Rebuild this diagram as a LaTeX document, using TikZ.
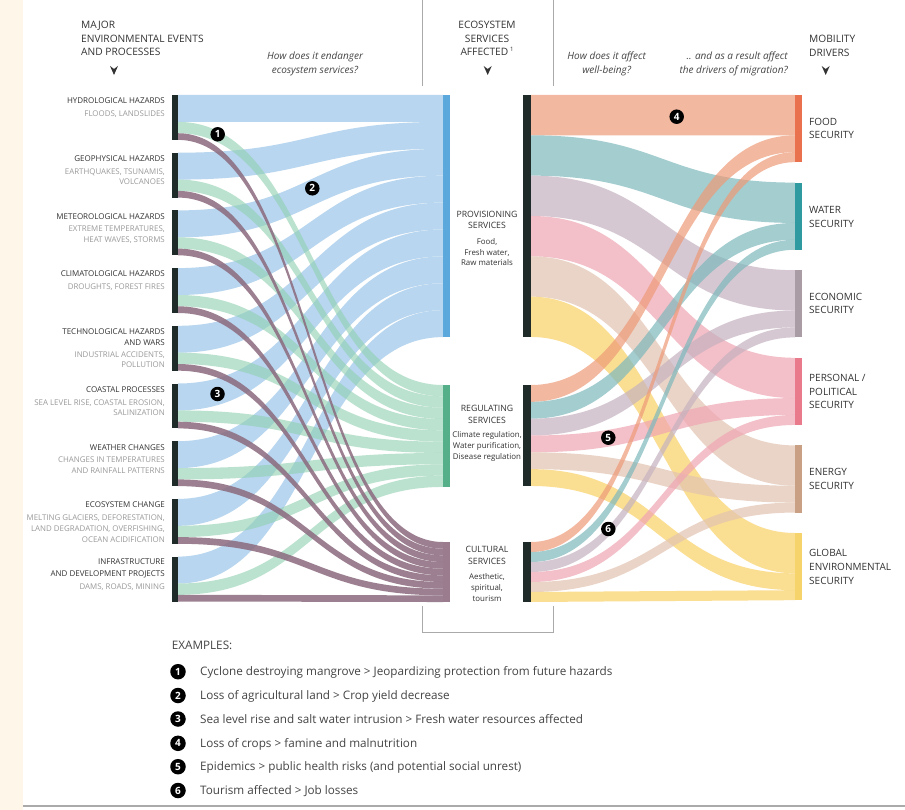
\documentclass[tikz,border=0pt]{standalone}
\usepackage{fontspec}
\setmainfont{Open Sans}
\definecolor{cream}{HTML}{FDF6E9}
\definecolor{darkbar}{HTML}{1E2B28}
\definecolor{bluefl}{HTML}{B8D6EF}
\definecolor{greenfl}{HTML}{8FD0B0}
\definecolor{purplefl}{HTML}{8B6A7E}
\definecolor{bluebar}{HTML}{5AA8DC}
\definecolor{greenbar}{HTML}{55B08A}
\definecolor{purplebar}{HTML}{9B7B8E}
\definecolor{foodfl}{HTML}{EE9A78}
\definecolor{waterfl}{HTML}{7DB8BC}
\definecolor{econfl}{HTML}{C5B2BF}
\definecolor{persfl}{HTML}{EFA5B2}
\definecolor{enerfl}{HTML}{E2C3B0}
\definecolor{globfl}{HTML}{F9D064}
\definecolor{foodbar}{HTML}{E9714D}
\definecolor{waterbar}{HTML}{2F9AA0}
\definecolor{econbar}{HTML}{A99CA5}
\definecolor{persbar}{HTML}{E97A8C}
\definecolor{enerbar}{HTML}{C9A084}
\definecolor{globbar}{HTML}{F6D36B}
\definecolor{tdark}{HTML}{333333}
\definecolor{tgray}{HTML}{9A9A9A}
\definecolor{tq}{HTML}{444444}
\definecolor{linegray}{HTML}{AAAAAA}
\newcommand{\sankeyband}[7]{%
  \pgfmathsetmacro\xm{(#1+#4)/2}%
  \fill[#7] (#1,#2) .. controls (\xm,#2) and (\xm,#5) .. (#4,#5) -- (#4,#6) .. controls (\xm,#6) and (\xm,#3) .. (#1,#3) -- cycle;}
\newcommand{\downmark}[2]{\fill[tdark] (#1-4,#2-5) -- (#1,#2-2) -- (#1+4,#2-5) -- (#1,#2+4) -- cycle;}
\begin{document}
\begin{tikzpicture}[x=1pt,y=-1pt,
  hd/.style={anchor=base west, font=\fontsize{10.2}{12}\selectfont, text=tdark, inner sep=0},
  hdc/.style={anchor=base, font=\fontsize{10.2}{12}\selectfont, text=tdark, inner sep=0},
  qs/.style={anchor=base, font=\fontsize{10}{11}\selectfont\itshape, text=tq, inner sep=0},
  lt/.style={anchor=base east, font=\fontsize{8}{10}\selectfont, text=tdark, inner sep=0},
  ls/.style={anchor=base east, font=\fontsize{7.9}{9}\selectfont, text=tgray, inner sep=0},
  mt/.style={anchor=base, font=\fontsize{8.7}{10}\selectfont, text=tdark, inner sep=0},
  ms/.style={anchor=base, font=\fontsize{7.9}{10}\selectfont, text=tdark, inner sep=0},
  dl/.style={anchor=base west, font=\fontsize{10}{12}\selectfont, text=tdark, inner sep=0},
  mk/.style={circle, fill=black, text=white, inner sep=0, minimum size=14.5, font=\fontsize{10}{10}\selectfont\bfseries},
  ex/.style={anchor=base west, font=\fontsize{11.7}{13}\selectfont, text=tq, inner sep=0},
  frame/.style={draw=linegray, line width=1}]
\useasboundingbox (0,0) rectangle (905,810);
\fill[white] (0,0) rectangle (905,810);
\fill[cream] (0,0) rectangle (23,810);
\draw[draw=linegray, line width=1.2] (23,806) -- (905,806);
% guide lines
\draw[frame] (422,0) -- (422,86);
\draw[frame] (553,0) -- (553,86);
\draw[frame] (422,606) -- (422,632) -- (553,632) -- (553,606);

% ---- left flows
\foreach \i in {0,...,8}{
  \pgfmathsetmacro\sa{95+\i*57.7}
  \pgfmathsetmacro\sb{\sa+26.9}
  \pgfmathsetmacro\ta{95+\i*26.9}
  \pgfmathsetmacro\tb{\ta+26.9}
  \sankeyband{178}{\sa}{\sb}{443}{\ta}{\tb}{fill=bluefl}
}
\foreach \i in {0,...,8}{
  \pgfmathsetmacro\sa{95+\i*57.7+26.9}
  \pgfmathsetmacro\sb{\sa+11.33}
  \pgfmathsetmacro\ta{385+\i*11.33}
  \pgfmathsetmacro\tb{\ta+11.33}
  \sankeyband{178}{\sa}{\sb}{443}{\ta}{\tb}{fill=greenfl,fill opacity=0.6}
}
\foreach \i in {0,...,8}{
  \pgfmathsetmacro\sa{95+\i*57.7+38.23}
  \pgfmathsetmacro\sb{\sa+6.67}
  \pgfmathsetmacro\ta{542+\i*6.67}
  \pgfmathsetmacro\tb{\ta+6.67}
  \sankeyband{178}{\sa}{\sb}{443}{\ta}{\tb}{fill=purplefl,fill opacity=0.85}
}
% ---- right flows
\foreach \k/\col in {0/foodfl,1/waterfl,2/econfl,3/persfl,4/enerfl,5/globfl}{
  \pgfmathsetmacro\sa{95+\k*40.33}
  \pgfmathsetmacro\sb{\sa+40.33}
  \pgfmathsetmacro\ta{95+\k*87.6}
  \pgfmathsetmacro\tb{\ta+40.33}
  \sankeyband{531}{\sa}{\sb}{795}{\ta}{\tb}{fill=\col,fill opacity=0.7}
}
\foreach \k/\col in {0/foodfl,1/waterfl,2/econfl,3/persfl,4/enerfl,5/globfl}{
  \pgfmathsetmacro\sa{385+\k*16.83}
  \pgfmathsetmacro\sb{\sa+16.83}
  \pgfmathsetmacro\ta{95+\k*87.6+40.33}
  \pgfmathsetmacro\tb{\ta+16.83}
  \sankeyband{531}{\sa}{\sb}{795}{\ta}{\tb}{fill=\col,fill opacity=0.7}
}
\foreach \k/\col in {0/foodfl,1/waterfl,2/econfl,3/persfl,4/enerfl,5/globfl}{
  \pgfmathsetmacro\sa{542+\k*10}
  \pgfmathsetmacro\sb{\sa+10}
  \pgfmathsetmacro\ta{95+\k*87.6+57.17}
  \pgfmathsetmacro\tb{\ta+10}
  \sankeyband{531}{\sa}{\sb}{795}{\ta}{\tb}{fill=\col,fill opacity=0.7}
}

% ---- bars
\foreach \i in {0,...,8}{
  \pgfmathsetmacro\sa{95+\i*57.7}
  \pgfmathsetmacro\sb{\sa+44.9}
  \fill[darkbar] (172,\sa) rectangle (178,\sb);
}
\fill[bluebar] (443,95) rectangle (449.5,337.1);
\fill[greenbar] (443,385) rectangle (449.5,487);
\fill[purplebar] (443,542) rectangle (449.5,602);
\fill[darkbar] (523,95) rectangle (531,337.1);
\fill[darkbar] (523,385) rectangle (531,486);
\fill[darkbar] (523,542) rectangle (531,602);
\foreach \k/\col in {0/foodbar,1/waterbar,2/econbar,3/persbar,4/enerbar,5/globbar}{
  \pgfmathsetmacro\ta{95+\k*87.6}
  \pgfmathsetmacro\tb{\ta+67.2}
  \fill[\col] (795,\ta) rectangle (801.5,\tb);
}

% ---- headers
\node[hd] (h1a) at (81,28.6) {MAJOR};
\node[hd] (h1b) at (81,42.6) {ENVIRONMENTAL EVENTS};
\node[hd] (h1c) at (81,55.9) {AND PROCESSES};
\downmark{114}{71}
\node[qs] (q1a) at (315,60) {How does it endanger};
\node[qs] (q1b) at (315,74) {ecosystem services?};
\node[hdc] (h2a) at (487,28.6) {ECOSYSTEM};
\node[hdc] (h2b) at (487,42.3) {SERVICES};
\node[hdc] (h2c) at (487,55.6) {AFFECTED\,\raisebox{0.45em}{\fontsize{6}{6}\selectfont 1}};
\downmark{487.7}{71}
\node[qs] (q2a) at (606.7,60) {How does it affect};
\node[qs] (q2b) at (606.7,74) {well-being?};
\node[qs, anchor=base east] (q3a) at (788,60) {.. and as a result affect};
\node[qs, anchor=base east] (q3b) at (788,74) {the drivers of migration?};
\node[hd] (h3a) at (809,42.6) {MOBILITY};
\node[hd] (h3b) at (809,56.3) {DRIVERS};
\downmark{825.7}{71}

% ---- left labels
\node[lt] (l1) at (165,103.9) {HYDROLOGICAL HAZARDS};
\node[ls] (l1s) at (165,116.6) {FLOODS, LANDSLIDES};
\node[lt] (l2) at (165,161.9) {GEOPHYSICAL HAZARDS};
\node[ls] (l2s) at (165,174.6) {EARTHQUAKES, TSUNAMIS,};
\node[ls] (l2t) at (165,184.6) {VOLCANOES};
\node[lt] (l3) at (165,219.6) {METEOROLOGICAL HAZARDS};
\node[ls] (l3s) at (165,231.6) {EXTREME TEMPERATURES,};
\node[ls] (l3t) at (165,242.6) {HEAT WAVES, STORMS};
\node[lt] (l4) at (165,276.9) {CLIMATOLOGICAL HAZARDS};
\node[ls] (l4s) at (165,289.6) {DROUGHTS, FOREST FIRES};
\node[lt] (l5) at (165,334.9) {TECHNOLOGICAL HAZARDS};
\node[lt] (l5b) at (165,345.9) {AND WARS};
\node[ls] (l5s) at (165,357.3) {INDUSTRIAL ACCIDENTS,};
\node[ls] (l5t) at (165,367.6) {POLLUTION};
\node[lt] (l6) at (165,392.9) {COASTAL PROCESSES};
\node[ls] (l6s) at (165,405.3) {SEA LEVEL RISE, COASTAL EROSION,};
\node[ls] (l6t) at (165,415.6) {SALINIZATION};
\node[lt] (l7) at (165,450.6) {WEATHER CHANGES};
\node[ls] (l7s) at (165,462.6) {CHANGES IN TEMPERATURES};
\node[ls] (l7t) at (165,473.6) {AND RAINFALL PATTERNS};
\node[lt] (l8) at (165,507.9) {ECOSYSTEM CHANGE};
\node[ls] (l8s) at (165,520.6) {MELTING GLACIERS, DEFORESTATION,};
\node[ls] (l8t) at (165,531.6) {LAND DEGRADATION, OVERFISHING,};
\node[ls] (l8u) at (165,542.3) {OCEAN ACIDIFICATION};
\node[lt] (l9) at (165,564.9) {INFRASTRUCTURE};
\node[lt] (l9b) at (165,576.6) {AND DEVELOPMENT PROJECTS};
\node[ls] (l9s) at (165,589.6) {DAMS, ROADS, MINING};

% ---- middle labels
\node[mt] (p1) at (487,217.4) {PROVISIONING};
\node[mt] (p2) at (487,228.8) {SERVICES};
\node[ms] (p3) at (487,244.5) {Food,};
\node[ms] (p4) at (487,255.2) {Fresh water,};
\node[ms] (p5) at (487,266) {Raw materials};
\node[mt] (r1) at (487,411.4) {REGULATING};
\node[mt] (r2) at (487,423) {SERVICES};
\node[ms] (r3) at (487,437.3) {Climate regulation,};
\node[ms] (r4) at (487,448.7) {Water purification,};
\node[ms] (r5) at (487,459.7) {Disease regulation};
\node[mt] (c1) at (487,552.1) {CULTURAL};
\node[mt] (c2) at (487,564) {SERVICES};
\node[ms] (c3) at (487,579.7) {Aesthetic,};
\node[ms] (c4) at (487,590.7) {spiritual,};
\node[ms] (c5) at (487,601) {tourism};

% ---- driver labels
\node[dl] (d1a) at (809,125.9) {FOOD};
\node[dl] (d1b) at (809,138.6) {SECURITY};
\node[dl] (d2a) at (809,213.6) {WATER};
\node[dl] (d2b) at (809,227.9) {SECURITY};
\node[dl] (d3a) at (809,300.3) {ECONOMIC};
\node[dl] (d3b) at (809,313.6) {SECURITY};
\node[dl] (d4a) at (809,381.6) {PERSONAL /};
\node[dl] (d4b) at (809,395.3) {POLITICAL};
\node[dl] (d4c) at (809,408.6) {SECURITY};
\node[dl] (d5a) at (809,475.9) {ENERGY};
\node[dl] (d5b) at (809,489.6) {SECURITY};
\node[dl] (d6a) at (809,556.3) {GLOBAL};
\node[dl] (d6b) at (809,570.3) {ENVIRONMENTAL};
\node[dl] (d6c) at (809,584.3) {SECURITY};

% ---- numbered markers in the diagram
\node[mk] (m1) at (217.7,134.3) {1};
\node[mk] (m2) at (312.3,188.3) {2};
\node[mk] (m3) at (217.5,394) {3};
\node[mk] (m4) at (676.7,116.7) {4};
\node[mk] (m5) at (608.3,437.7) {5};
\node[mk] (m6) at (608.3,529) {6};

% ---- examples
\node[ex] (exh) at (171.7,649) {EXAMPLES:};
\node[mk, minimum size=15.5] (e1) at (178,671.7) {1};
\node[ex] (e1t) at (200,675.7) {Cyclone destroying mangrove > Jeopardizing protection from future hazards};
\node[mk, minimum size=15.5] (e2) at (178,695.5) {2};
\node[ex] (e2t) at (200,699.5) {Loss of agricultural land > Crop yield decrease};
\node[mk, minimum size=15.5] (e3) at (178,719) {3};
\node[ex] (e3t) at (200,723) {Sea level rise and salt water intrusion > Fresh water resources affected};
\node[mk, minimum size=15.5] (e4) at (178,743.3) {4};
\node[ex] (e4t) at (200,747.3) {Loss of crops > famine and malnutrition};
\node[mk, minimum size=15.5] (e5) at (178,766.7) {5};
\node[ex] (e5t) at (200,770.7) {Epidemics > public health risks (and potential social unrest)};
\node[mk, minimum size=15.5] (e6) at (178,790.5) {6};
\node[ex] (e6t) at (200,794.5) {Tourism affected > Job losses};
\end{tikzpicture}
\end{document}
